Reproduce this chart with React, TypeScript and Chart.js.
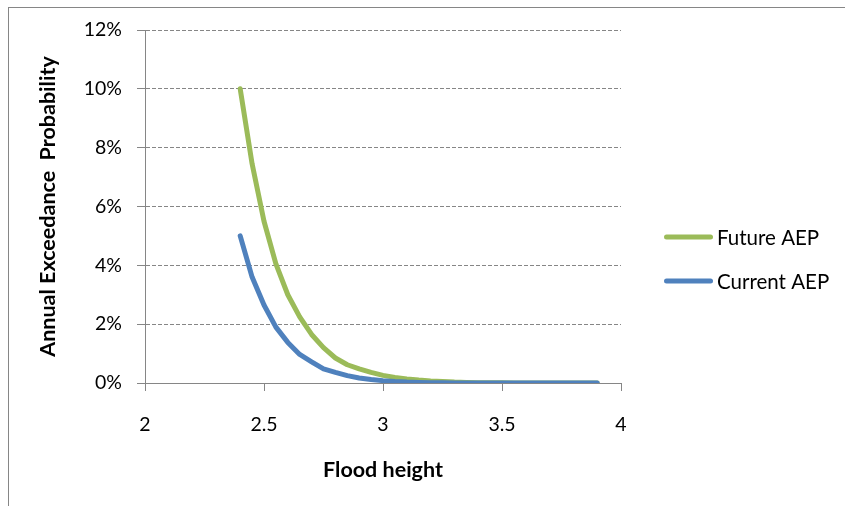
import React, { useEffect, useRef } from "react";
import { Chart, registerables } from "chart.js";

Chart.register(...registerables);

const FLOOD_HEIGHTS = [
  2.4, 2.45, 2.5, 2.55, 2.6, 2.65, 2.7, 2.75, 2.8, 2.85, 2.9, 2.95, 3.0, 3.05, 3.1, 3.15,
  3.2, 3.25, 3.3, 3.35, 3.4, 3.45, 3.5, 3.55, 3.6, 3.65, 3.7, 3.75, 3.8, 3.85, 3.9,
];
const FUTURE_AEP = [
  10.0, 7.45, 5.5, 4.05, 3.0, 2.25, 1.65, 1.2, 0.85, 0.62, 0.48, 0.36, 0.26, 0.19, 0.14, 0.1,
  0.07, 0.05, 0.03, 0.02, 0.01, 0.01, 0.01, 0, 0, 0, 0, 0, 0, 0, 0,
];
const CURRENT_AEP = [
  5.0, 3.6, 2.65, 1.9, 1.38, 0.97, 0.72, 0.48, 0.36, 0.25, 0.17, 0.12, 0.08, 0.05, 0.03, 0.02,
  0.01, 0.01, 0, 0, 0, 0, 0, 0, 0, 0, 0, 0, 0, 0, 0,
];
const SERIES_NAMES = ["Future AEP", "Current AEP"];
const SERIES_COLORS = ["#9BBB59", "#4F81BD"];
const X_TITLE = "Flood height";
const Y_TITLE = "Annual Exceedance  Probability";

const FONT = "Lato, 'Open Sans', sans-serif";
const AXIS = "#868686";

const sideLegend = {
  id: "sideLegend",
  afterDraw(chart: any) {
    const { ctx, chartArea } = chart;
    const x0 = chartArea.right + 43;
    const lineLen = 49;
    chart.data.datasets.forEach((ds: any, i: number) => {
      const y = 237 + i * 44;
      ctx.save();
      ctx.strokeStyle = ds.borderColor;
      ctx.lineWidth = 5;
      ctx.lineCap = "round";
      ctx.beginPath();
      ctx.moveTo(x0 + 2.5, y);
      ctx.lineTo(x0 + lineLen - 2.5, y);
      ctx.stroke();
      ctx.fillStyle = "#000";
      ctx.font = `20.5px ${FONT}`;
      ctx.textBaseline = "middle";
      ctx.textAlign = "left";
      ctx.fillText(ds.label, x0 + lineLen + 4, y + 1.5);
      ctx.restore();
    });
  },
};

export default function App() {
  const ref = useRef<HTMLCanvasElement>(null);

  useEffect(() => {
    const series = [FUTURE_AEP, CURRENT_AEP];
    const chart = new Chart(ref.current as HTMLCanvasElement, {
      type: "line",
      data: {
        datasets: series.map((vals, s) => ({
          label: SERIES_NAMES[s],
          data: FLOOD_HEIGHTS.map((x, i) => ({ x, y: vals[i] })),
          borderColor: SERIES_COLORS[s],
          backgroundColor: SERIES_COLORS[s],
          borderWidth: 5,
          pointRadius: 0,
          pointHoverRadius: 0,
          tension: 0,
          borderCapStyle: "round",
          borderJoinStyle: "round",
          fill: false,
          order: s === 0 ? 1 : 0,
        })),
      },
      options: {
        responsive: false,
        animation: false,
        events: [],
        layout: { padding: { left: 0, top: 30, right: 224, bottom: 0 } },
        plugins: { legend: { display: false }, tooltip: { enabled: false } },
        scales: {
          x: {
            type: "linear",
            min: 2,
            max: 4,
            ticks: {
              stepSize: 0.5,
              color: "#000",
              font: { family: FONT, size: 19.5 },
              padding: 22,
              maxRotation: 0,
              callback: (v: any) => String(v),
            },
            grid: {
              drawOnChartArea: false,
              drawTicks: true,
              tickLength: 8,
              color: AXIS,
              tickColor: AXIS,
            },
            border: { color: AXIS, width: 1 },
            title: {
              display: true,
              text: X_TITLE,
              color: "#000",
              font: { family: FONT, size: 21.5, weight: "bold" },
              padding: { top: 0, bottom: 23 },
            },
            afterFit(s: any) {
              s.height = 123;
            },
          },
          y: {
            type: "linear",
            min: 0,
            max: 12,
            ticks: {
              stepSize: 2,
              color: "#000",
              font: { family: FONT, size: 19.5 },
              padding: 15,
              callback: (v: any) => `${v}%`,
            },
            grid: {
              color: AXIS,
              lineWidth: 1,
              tickLength: 8,
              tickColor: AXIS,
            },
            border: { color: AXIS, width: 1, dash: [4, 2] },
            title: {
              display: true,
              text: Y_TITLE,
              color: "#000",
              font: { family: FONT, size: 21.5, weight: "bold" },
              padding: { top: 35, bottom: 0 },
            },
            afterFit(s: any) {
              s.width = 145;
            },
          },
        },
      } as any,
      plugins: [sideLegend],
    });
    return () => chart.destroy();
  }, []);

  return (
    <div style={{ position: "fixed", left: 0, top: 0, width: 845, height: 506, background: "#fff" }}>
      <div
        style={{
          position: "absolute",
          left: 8,
          top: 7,
          width: 837,
          height: 499,
          borderTop: `1px solid ${AXIS}`,
          borderLeft: `1px solid ${AXIS}`,
          boxSizing: "border-box",
        }}
      />
      <canvas ref={ref} width={845} height={506} style={{ position: "absolute", left: 0, top: 0 }} />
    </div>
  );
}
